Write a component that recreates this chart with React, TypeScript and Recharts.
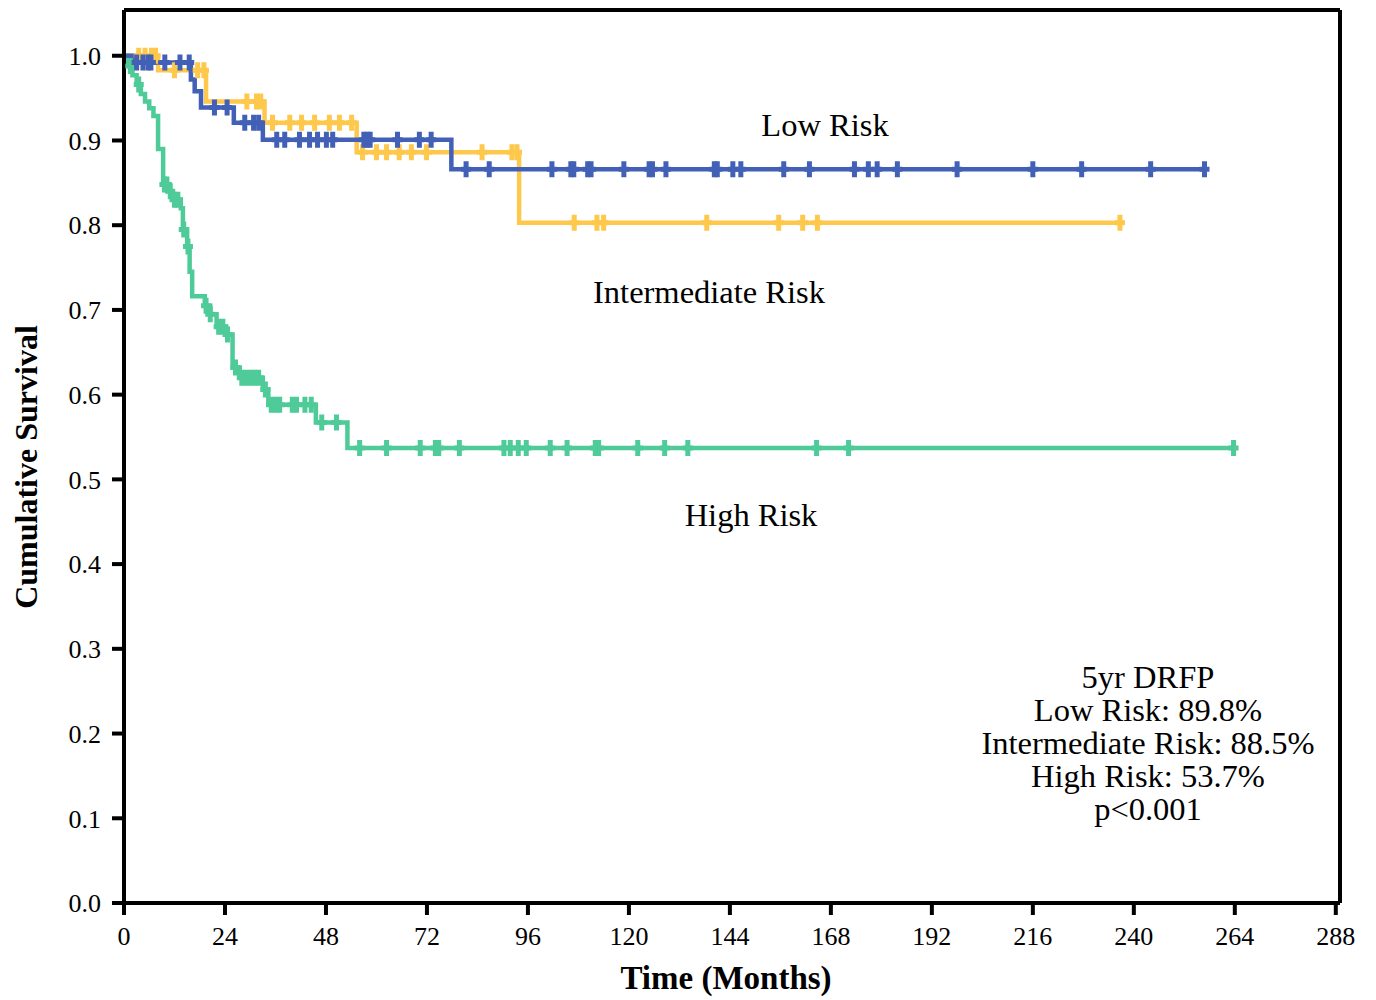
import React from 'react';
import {
  ComposedChart,
  Line,
  Scatter,
  XAxis,
  YAxis,
  ReferenceLine,
} from 'recharts';

// Kaplan-Meier step points (time in months, cumulative survival)
const lowStepT = [0, 2, 15.9, 16.8, 18.3, 26.1, 33, 77.8, 256.8];
const lowStepS = [1.0, 0.992, 0.972, 0.958, 0.939, 0.921, 0.901, 0.866, 0.866];

const midStepT = [0, 8.1, 19.5, 33.4, 55.3, 93.9, 236.7];
const midStepS = [1.0, 0.983, 0.946, 0.921, 0.886, 0.803, 0.803];

const highStepT = [
  0, 1, 2, 3, 4, 5, 6, 7, 8.1, 9.3, 10.5, 11.5, 13.5, 14, 15, 15.6, 16.2, 19.2, 20.5, 22, 24.3,
  25.8, 27.5, 33, 34.3, 45.6, 53.1, 263.7,
];
const highStepS = [
  1.0, 0.988, 0.977, 0.966, 0.955, 0.946, 0.938, 0.929, 0.89, 0.848, 0.84, 0.83, 0.82, 0.795,
  0.775, 0.745, 0.716, 0.705, 0.695, 0.68, 0.671, 0.632, 0.62, 0.606, 0.588, 0.567, 0.537, 0.537,
];

// censored observations (months)
const lowCensor = [
  3, 4.5, 5.7, 6.4, 9.7, 13.3, 15.5, 21.5, 24.5, 28.7, 30.8, 32, 36.3, 38.2, 41.7, 44.1, 46, 48.1,
  49.6, 57, 57.8, 58.5, 65, 70.2, 73, 81.3, 86.8, 101.7, 106.2, 106.9, 110.2, 111, 118.8, 124.8,
  125.6, 128.8, 140.3, 141, 144.7, 146.6, 156.8, 162.9, 173.6, 176.9, 179, 183.8, 198, 216, 227.6,
  244, 256.8,
];
const midCensor = [
  3.5, 5, 6.5, 7.5, 12, 17.5, 19, 29.2, 31.5, 32.5, 35.3, 39.4, 42.2, 45.3, 48.8, 51.2, 54.1, 56.7,
  60, 62.4, 65.4, 68.3, 71.9, 85.1, 92.2, 93.4, 107, 112.4, 114, 138.5, 155.6, 161.3, 164.8, 236.7,
];
const highCensor = [
  1.5, 3.5, 9.6, 10.2, 11, 12, 12.8, 14.2, 15.2, 19.5, 20.5, 22.5, 23.5, 24.6, 26.5, 28, 29, 30, 31,
  32, 33.6, 35, 36, 37, 40, 41, 43, 44.5, 47, 50.5, 56, 62.4, 70.4, 74, 74.8, 79.7, 90.3, 91.8, 93.7,
  95.6, 101.3, 105.3, 112, 112.8, 122.1, 128.5, 134, 164.6, 172.2, 263.7,
];

const xTicks = [0, 24, 48, 72, 96, 120, 144, 168, 192, 216, 240, 264, 288];
const yTicks = [0, 0.1, 0.2, 0.3, 0.4, 0.5, 0.6, 0.7, 0.8, 0.9, 1.0];

const summaryLines = [
  '5yr DRFP',
  'Low Risk: 89.8%',
  'Intermediate Risk: 88.5%',
  'High Risk: 53.7%',
  'p<0.001',
];

const BLUE = '#4160b6';
const YELLOW = '#fdc84c';
const GREEN = '#4ecb98';
const FONT = '"Liberation Serif", "DejaVu Serif", serif';

const X_MAX = 289;
const Y_MAX = 1.054;
const LINE_W = 4.5;

const toSteps = (ts: number[], ss: number[]) => ts.map((t, i) => ({ t, s: ss[i] }));

const survAt = (ts: number[], ss: number[], t: number) => {
  let v = ss[0];
  for (let i = 0; i < ts.length; i++) {
    if (ts[i] <= t) v = ss[i];
  }
  return v;
};

const toCensor = (cs: number[], ts: number[], ss: number[]) =>
  cs.map((t) => ({ t, s: survAt(ts, ss, t) }));

const lowData = toSteps(lowStepT, lowStepS);
const midData = toSteps(midStepT, midStepS);
const highData = toSteps(highStepT, highStepS);
const lowMarks = toCensor(lowCensor, lowStepT, lowStepS);
const midMarks = toCensor(midCensor, midStepT, midStepS);
const highMarks = toCensor(highCensor, highStepT, highStepS);

const CensorMark = (props: any) => {
  const { cx, cy, fill } = props;
  if (cx == null || cy == null) return null;
  return (
    <path
      d={`M${cx},${cy - 8}V${cy + 8}M${cx - 5},${cy}H${cx + 5}`}
      stroke={fill}
      strokeWidth={5}
      fill="none"
    />
  );
};

const label = (left: number, top: number, extra: React.CSSProperties = {}): React.CSSProperties => ({
  position: 'absolute',
  left,
  top,
  transform: 'translate(-50%, -50%)',
  whiteSpace: 'nowrap',
  fontFamily: FONT,
  fontSize: 32.5,
  color: '#000',
  ...extra,
});

export default function App() {
  return (
    <div style={{ position: 'relative', width: 1368, height: 990, background: '#fff' }}>
      <ComposedChart
        width={1368}
        height={990}
        margin={{ top: 2, right: 36, left: 0, bottom: 0 }}
      >
        <XAxis
          dataKey="t"
          type="number"
          domain={[0, X_MAX]}
          ticks={xTicks}
          allowDataOverflow
          height={95}
          stroke="#000"
          axisLine={{ stroke: '#000', strokeWidth: 4 }}
          tickLine={{ stroke: '#000', strokeWidth: 4 }}
          tickSize={12}
          tickMargin={12}
          tick={{ fill: '#000', fontSize: 26, fontFamily: FONT }}
        />
        <YAxis
          type="number"
          domain={[0, Y_MAX]}
          ticks={yTicks}
          allowDataOverflow
          width={116}
          stroke="#000"
          axisLine={{ stroke: '#000', strokeWidth: 4 }}
          tickLine={{ stroke: '#000', strokeWidth: 4 }}
          tickSize={12}
          tickMargin={11}
          tickFormatter={(v: number) => v.toFixed(1)}
          tick={{ fill: '#000', fontSize: 26, fontFamily: FONT }}
        />
        <ReferenceLine y={Y_MAX} stroke="#000" strokeWidth={4} />
        <ReferenceLine x={X_MAX} stroke="#000" strokeWidth={4} />

        <Line
          data={highData}
          dataKey="s"
          type="stepAfter"
          stroke={GREEN}
          strokeWidth={LINE_W}
          dot={false}
          activeDot={false}
          isAnimationActive={false}
        />
        <Scatter data={highMarks} dataKey="s" fill={GREEN} shape={CensorMark} isAnimationActive={false} />

        <Line
          data={midData}
          dataKey="s"
          type="stepAfter"
          stroke={YELLOW}
          strokeWidth={LINE_W}
          dot={false}
          activeDot={false}
          isAnimationActive={false}
        />
        <Scatter data={midMarks} dataKey="s" fill={YELLOW} shape={CensorMark} isAnimationActive={false} />

        <Line
          data={lowData}
          dataKey="s"
          type="stepAfter"
          stroke={BLUE}
          strokeWidth={LINE_W}
          dot={false}
          activeDot={false}
          isAnimationActive={false}
        />
        <Scatter data={lowMarks} dataKey="s" fill={BLUE} shape={CensorMark} isAnimationActive={false} />
      </ComposedChart>

      <div style={label(817, 117)}>Low Risk</div>
      <div style={label(701, 284)}>Intermediate Risk</div>
      <div style={label(743, 507)}>High Risk</div>

      <div
        style={label(18, 459, {
          transform: 'translate(-50%, -50%) rotate(-90deg)',
          fontWeight: 'bold',
          fontSize: 32,
        })}
      >
        Cumulative Survival
      </div>
      <div style={label(718, 970, { fontWeight: 'bold', fontSize: 33 })}>Time (Months)</div>

      <div
        style={{
          position: 'absolute',
          left: 1140,
          top: 653,
          transform: 'translateX(-50%)',
          textAlign: 'center',
          fontFamily: FONT,
          fontSize: 32.5,
          lineHeight: '33px',
          whiteSpace: 'nowrap',
          color: '#000',
        }}
      >
        {summaryLines.map((l) => (
          <div key={l}>{l}</div>
        ))}
      </div>
    </div>
  );
}
